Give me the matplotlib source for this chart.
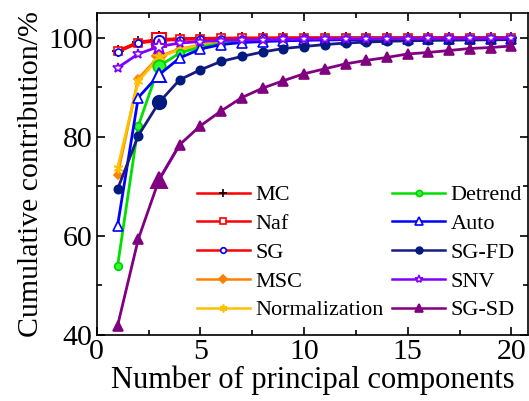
import matplotlib
matplotlib.use("Agg")
import matplotlib.pyplot as plt
from matplotlib.ticker import MultipleLocator

# principal component index
pcs = list(range(1, 21))

# cumulative contribution (%) per preprocessing method
mc = [97.3, 99.1, 99.6, 99.8, 99.85, 99.9, 99.92, 99.94, 99.95, 99.96,
      99.97, 99.97, 99.98, 99.98, 99.98, 99.99, 99.99, 99.99, 99.99, 99.99]
naf = [97.2, 99.0, 99.5, 99.7, 99.8, 99.85, 99.88, 99.9, 99.92, 99.93,
       99.94, 99.95, 99.95, 99.96, 99.96, 99.97, 99.97, 99.97, 99.98, 99.98]
sg = [97.1, 98.9, 99.4, 99.6, 99.7, 99.75, 99.8, 99.83, 99.85, 99.87,
      99.88, 99.89, 99.9, 99.91, 99.92, 99.92, 99.93, 99.93, 99.94, 99.94]
msc = [72.3, 91.7, 96.2, 97.7, 98.5, 99.0, 99.3, 99.45, 99.55, 99.6,
       99.65, 99.7, 99.72, 99.75, 99.77, 99.79, 99.8, 99.82, 99.83, 99.84]
norm = [73.6, 91.2, 96.0, 97.6, 98.4, 98.9, 99.2, 99.4, 99.5, 99.56,
        99.62, 99.66, 99.7, 99.73, 99.75, 99.77, 99.79, 99.8, 99.82, 99.83]
detrend = [53.8, 82.2, 94.2, 96.9, 98.1, 98.8, 99.2, 99.4, 99.5, 99.58,
           99.64, 99.68, 99.72, 99.75, 99.77, 99.79, 99.81, 99.82, 99.83, 99.84]
auto = [62.0, 87.9, 92.5, 95.9, 97.7, 98.6, 99.0, 99.2, 99.35, 99.45,
        99.52, 99.58, 99.62, 99.66, 99.69, 99.71, 99.73, 99.75, 99.77, 99.78]
sgfd = [69.4, 80.2, 86.9, 91.5, 93.5, 95.2, 96.2, 97.1, 97.8, 98.2,
        98.6, 98.9, 99.1, 99.25, 99.35, 99.42, 99.48, 99.52, 99.55, 99.58]
snv = [93.9, 96.7, 98.2, 98.9, 99.2, 99.4, 99.5, 99.58, 99.64, 99.68,
       99.72, 99.75, 99.77, 99.79, 99.8, 99.82, 99.83, 99.84, 99.85, 99.86]
sgsd = [41.8, 59.3, 71.3, 78.4, 82.2, 85.2, 87.9, 89.8, 91.3, 92.7,
        93.7, 94.7, 95.4, 96.0, 96.7, 97.0, 97.4, 97.8, 98.0, 98.3]

plt.rcParams['font.family'] = ['Liberation Serif', 'DejaVu Serif']

fig = plt.figure(figsize=(5.29, 4.01), dpi=100)
ax = fig.add_axes([0.183, 0.165, 0.815, 0.803])

asterisk = (6, 2, 0)
# (label, data, line colour, marker, marker face, marker edge, size)
series = [
    ('MC', mc, '#FF0000', '+', 'none', 'black', 8),
    ('Naf', naf, '#FF0000', 's', 'white', '#FF0000', 6),
    ('SG', sg, '#FF0000', 'o', 'white', '#0000FF', 5),
    ('MSC', msc, '#FF8000', 'D', '#FF8000', '#FF8000', 4.5),
    ('Normalization', norm, '#FFC000', asterisk, '#FFC000', '#FFC000', 7),
    ('Detrend', detrend, '#00E000', 'o', '#30FF30', '#00D000', 5.5),
    ('Auto', auto, '#0000FF', '^', 'white', '#0000FF', 6.5),
    ('SG-FD', sgfd, '#1A1A80', 'o', '#001A80', '#001A80', 6),
    ('SNV', snv, '#8000FF', '*', 'white', '#8000FF', 7.5),
    ('SG-SD', sgsd, '#800080', '^', '#800080', '#800080', 7),
]

for label, y, lc, mk, fc, ec, ms in series:
    ax.plot(pcs, y, color=lc, lw=2, marker=mk, ms=ms, mfc=fc, mec=ec,
            mew=1.2, label=label)
    # the third point is drawn with an enlarged marker in the original
    ax.plot(pcs[2], y[2], linestyle='none', marker=mk, ms=ms * 1.6,
            mfc=fc, mec=ec, mew=1.4)

# segment of SG-SD between PC3 and PC4 shows in violet in the original
ax.plot(pcs[2:4], sgsd[2:4], color='#8000FF', lw=2, zorder=1.9)

ax.set_xlim(0, 20.8)
ax.set_ylim(40, 105)
ax.xaxis.set_major_locator(MultipleLocator(5))
ax.xaxis.set_minor_locator(MultipleLocator(2.5))
ax.yaxis.set_major_locator(MultipleLocator(20))
ax.yaxis.set_minor_locator(MultipleLocator(10))
ax.tick_params(which='both', direction='in', top=True, right=True,
               labelsize=21.5, width=1.2, pad=3)
ax.tick_params(which='major', length=6)
ax.tick_params(which='minor', length=3.5)
for sp in ax.spines.values():
    sp.set_linewidth(1.2)

ax.set_xlabel('Number of principal components', fontsize=22, labelpad=0)
ax.set_ylabel('Cumulative contribution/%', fontsize=21.5, labelpad=3)

leg = ax.legend(ncol=2, loc='lower right', bbox_to_anchor=(1.02, 0.0),
                frameon=False, fontsize=16,
                handlelength=2.4, handletextpad=0.25, columnspacing=0.35,
                labelspacing=0.37, borderaxespad=0.25, markerscale=0.8)
for h in leg.get_lines():
    h.set_linewidth(1.8)

fig.savefig('out.png', dpi=100)
